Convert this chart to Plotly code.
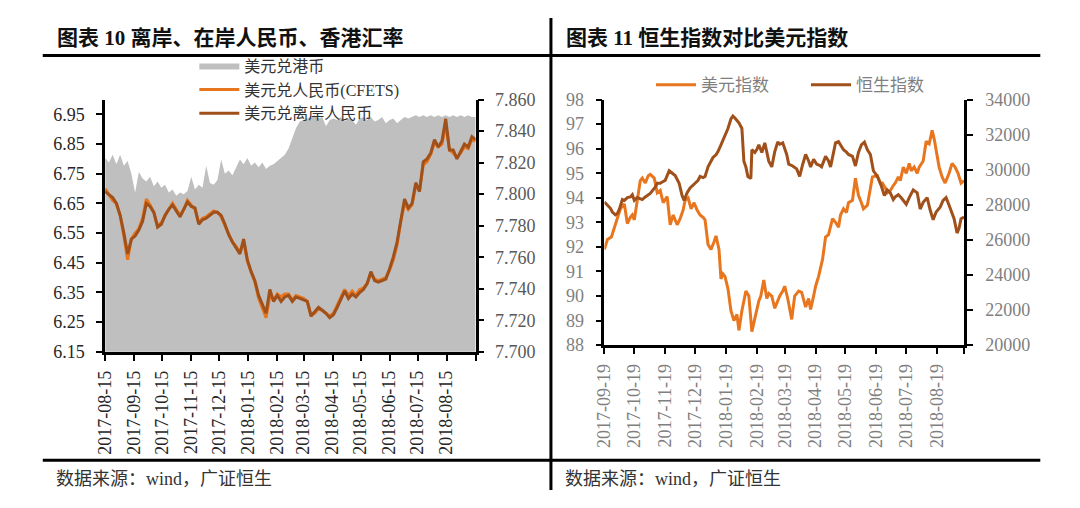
import pandas as pd
import plotly.graph_objects as go

# ---------------- Left chart data (4-day grid from 2017-08-15) ----------------
left_start = "2017-08-15"
usd_hkd = [7.823, 7.820, 7.825, 7.819, 7.825, 7.818, 7.821, 7.813, 7.801, 7.814,
           7.810, 7.808, 7.811, 7.805, 7.808, 7.804, 7.806, 7.801, 7.803, 7.799,
           7.801, 7.800, 7.802, 7.811, 7.803, 7.806, 7.804, 7.818, 7.807, 7.806,
           7.809, 7.822, 7.813, 7.815, 7.812, 7.817, 7.822, 7.819, 7.823, 7.818,
           7.820, 7.817, 7.820, 7.816, 7.818, 7.819, 7.821, 7.823, 7.825, 7.829,
           7.836, 7.842, 7.846, 7.847, 7.848, 7.849, 7.850, 7.848, 7.849, 7.843,
           7.847, 7.848, 7.847, 7.849, 7.846, 7.848, 7.847, 7.844, 7.848, 7.849,
           7.847, 7.849, 7.846, 7.847, 7.849, 7.845, 7.847, 7.848, 7.845, 7.847,
           7.849, 7.848, 7.849, 7.850, 7.849, 7.850, 7.849, 7.850, 7.849, 7.850,
           7.849, 7.850, 7.849, 7.850, 7.849, 7.850, 7.849, 7.850, 7.849, 7.849]
usd_cny_cfets = [6.700, 6.680, 6.660, 6.650, 6.610, 6.540, 6.460, 6.530, 6.550, 6.565,
                 6.600, 6.665, 6.645, 6.620, 6.575, 6.585, 6.610, 6.630, 6.650, 6.630,
                 6.610, 6.630, 6.660, 6.645, 6.630, 6.585, 6.600, 6.605, 6.615, 6.625,
                 6.620, 6.605, 6.575, 6.550, 6.520, 6.505, 6.485, 6.520, 6.455, 6.420,
                 6.385, 6.330, 6.300, 6.265, 6.340, 6.325, 6.345, 6.335, 6.345, 6.345,
                 6.325, 6.340, 6.335, 6.330, 6.320, 6.275, 6.280, 6.295, 6.290, 6.280,
                 6.270, 6.280, 6.305, 6.330, 6.360, 6.340, 6.355, 6.340, 6.360, 6.365,
                 6.380, 6.415, 6.395, 6.390, 6.395, 6.400, 6.425, 6.460, 6.510, 6.590,
                 6.650, 6.630, 6.645, 6.710, 6.695, 6.780, 6.790, 6.815, 6.855, 6.840,
                 6.850, 6.915, 6.830, 6.820, 6.805, 6.820, 6.840, 6.835, 6.865, 6.860]
usd_cnh = [6.690, 6.680, 6.670, 6.650, 6.610, 6.550, 6.480, 6.530, 6.540, 6.560,
           6.590, 6.650, 6.640, 6.620, 6.570, 6.580, 6.610, 6.630, 6.645, 6.625,
           6.605, 6.630, 6.655, 6.640, 6.635, 6.580, 6.595, 6.600, 6.610, 6.620,
           6.620, 6.610, 6.580, 6.545, 6.520, 6.500, 6.480, 6.530, 6.460, 6.420,
           6.390, 6.340, 6.310, 6.280, 6.360, 6.320, 6.340, 6.320, 6.335, 6.340,
           6.320, 6.335, 6.330, 6.325, 6.320, 6.270, 6.285, 6.300, 6.290, 6.280,
           6.265, 6.275, 6.300, 6.325, 6.355, 6.330, 6.345, 6.335, 6.350, 6.360,
           6.380, 6.420, 6.390, 6.385, 6.390, 6.395, 6.430, 6.470, 6.520, 6.600,
           6.665, 6.635, 6.650, 6.720, 6.690, 6.790, 6.800, 6.820, 6.865, 6.840,
           6.860, 6.935, 6.830, 6.830, 6.800, 6.825, 6.850, 6.840, 6.875, 6.865]

left_ticks = ["2017-08-15", "2017-09-15", "2017-10-15", "2017-11-15", "2017-12-15",
              "2018-01-15", "2018-02-15", "2018-03-15", "2018-04-15", "2018-05-15",
              "2018-06-15", "2018-07-15", "2018-08-15", "2018-09-15"]
left_ticktext = left_ticks[:-1] + [""]
left_y_ticks = [6.15, 6.25, 6.35, 6.45, 6.55, 6.65, 6.75, 6.85, 6.95]
hkd_ticks = [7.70, 7.72, 7.74, 7.76, 7.78, 7.80, 7.82, 7.84, 7.86]

# ---------------- Right chart data (day offsets from 2017-09-19) ----------------
right_start = "2017-09-19"
dxy_days = [0, 3, 7, 10, 13, 16, 20, 23, 26, 28, 30, 33, 36, 38, 41, 44, 46, 50, 53, 56,
            59, 63, 66, 69, 73, 76, 79, 81, 84, 87, 90, 93, 96, 99, 101, 104, 107, 110, 112, 115,
            117, 119, 121, 124, 127, 130, 133, 135, 138, 142, 145, 148, 151, 155, 157, 160, 163, 165, 168, 171,
            174, 176, 179, 181, 184, 188, 191, 195, 198, 202, 205, 207, 210, 212, 215, 219, 222, 225, 229, 232,
            235, 237, 240, 243, 245, 249, 252, 255, 258, 260, 264, 267, 269, 274, 277, 279, 282, 284, 287, 290,
            292, 295, 297, 300, 303, 306, 308, 311, 314, 316, 320, 323, 326, 328, 329, 331, 333, 336, 339, 342,
            346, 349, 352, 355, 358, 361]
dxy_vals = [91.90, 92.30, 92.40, 92.80, 93.15, 93.55, 93.75, 92.95, 93.20, 93.30, 93.10, 93.90, 94.70, 94.80, 94.60, 94.90, 94.95, 94.80, 94.20, 94.30,
            93.80, 94.05, 92.90, 93.30, 92.90, 93.15, 93.50, 93.90, 94.00, 93.55, 93.80, 93.50, 93.30, 93.20, 93.10, 92.10, 91.90, 92.20, 92.45, 91.90,
            90.70, 90.90, 90.80, 90.30, 89.40, 89.00, 89.25, 88.60, 89.40, 90.20, 90.00, 88.55, 89.10, 89.80, 90.00, 90.65, 89.90, 90.10, 90.00, 89.50,
            89.80, 90.00, 90.20, 90.40, 89.90, 89.05, 90.00, 90.20, 90.15, 89.55, 89.90, 89.45, 90.00, 90.40, 90.80, 91.50, 92.40, 92.50, 93.15, 93.00,
            92.80, 93.30, 93.55, 93.40, 93.80, 93.90, 94.80, 94.10, 93.80, 93.55, 93.70, 94.30, 94.85, 94.90, 94.60, 94.60, 94.40, 94.20, 94.30, 94.50,
            94.60, 94.85, 94.70, 95.25, 95.00, 95.40, 95.10, 95.25, 95.00, 95.25, 95.50, 96.30, 96.20, 96.55, 96.75, 96.40, 95.90, 95.25, 94.85, 94.60,
            95.00, 95.40, 95.25, 95.00, 94.60, 94.70]
hsi_days = [0, 3, 6, 8, 11, 13, 15, 18, 20, 23, 26, 28, 30, 33, 36, 38, 41, 43, 46, 48,
            51, 53, 56, 58, 61, 65, 68, 71, 75, 78, 80, 83, 86, 89, 91, 94, 96, 99, 101, 104,
            107, 109, 112, 114, 117, 119, 121, 124, 127, 129, 131, 132, 135, 138, 140, 142, 144, 147, 148, 151,
            153, 155, 158, 161, 163, 165, 168, 171, 174, 176, 179, 181, 183, 185, 189, 193, 196, 199, 202, 205,
            207, 210, 213, 216, 218, 222, 225, 227, 230, 232, 235, 238, 240, 243, 245, 249, 252, 255, 258, 261,
            264, 267, 270, 274, 278, 281, 284, 287, 290, 292, 295, 298, 300, 303, 306, 310, 314, 317, 320, 324,
            327, 330, 333, 337, 340, 343, 346, 348, 351, 354, 356, 358, 361]
hsi_vals = [28150, 27975, 27800, 27590, 27430, 27500, 27755, 28300, 28250, 28410, 28450, 28576, 28250, 28410, 28350, 28300, 28450, 28520, 28650, 28795,
            29000, 29230, 29230, 29300, 29395, 29940, 29780, 29670, 29230, 28520, 28250, 28685, 28960, 29100, 29230, 29400, 29615, 29550, 29615, 30160,
            30450, 30700, 30850, 31030, 31420, 31700, 31960, 32350, 32890, 33055, 32950, 32890, 32670, 32350, 30490, 30160, 29615, 29505, 31140, 30980,
            31150, 31420, 30980, 31530, 31000, 30490, 30160, 31030, 31580, 31450, 31530, 31200, 30870, 30320, 30215, 30050, 29615, 30300, 30870, 30500,
            30160, 30600, 30320, 30250, 30160, 30760, 30500, 30160, 30900, 31530, 31600, 31300, 31140, 31000, 30870, 30760, 30215, 30980, 31420, 31580,
            31140, 30870, 29940, 29615, 29070, 28520, 28850, 28685, 28300, 28450, 28576, 28400, 28250, 28030, 28410, 28850, 28685, 27755, 28140, 28410,
            27700, 27150, 27590, 27865, 28250, 28410, 27975, 27700, 27210, 26390, 26660, 27210, 27300]

right_ticks = ["2017-09-19", "2017-10-19", "2017-11-19", "2017-12-19", "2018-01-19",
               "2018-02-19", "2018-03-19", "2018-04-19", "2018-05-19", "2018-06-19",
               "2018-07-19", "2018-08-19", "2018-09-15"]
right_ticktext = right_ticks[:-1] + [""]

# ---------------- Styling ----------------
PAGE_W, PAGE_H = 1080, 508
BODY_MARGIN = 8                      # default page margin around the figure div
FIG_W, FIG_H = PAGE_W - 2 * BODY_MARGIN, PAGE_H - 2 * BODY_MARGIN
SERIF = "Liberation Serif, 'Noto Sans CJK SC', serif"
GRAY_FILL = "#BFBFBF"
ORANGE = "#E8761E"
BROWN = "#A0501A"


def px(x):
    """page x pixel -> paper fraction"""
    return (x - BODY_MARGIN) / FIG_W


def py(y):
    """page y pixel (from top) -> paper fraction"""
    return 1 - (y - BODY_MARGIN) / FIG_H


left_dates = pd.date_range(left_start, periods=len(usd_cnh), freq="4D")
right_dxy_dates = pd.Timestamp(right_start) + pd.to_timedelta(dxy_days, unit="D")
right_hsi_dates = pd.Timestamp(right_start) + pd.to_timedelta(hsi_days, unit="D")

fig = go.Figure()

fig.add_trace(go.Scatter(x=left_dates, y=usd_hkd, name="美元兑港币", mode="lines",
                         fill="tozeroy", fillcolor=GRAY_FILL, line=dict(width=0, color=GRAY_FILL),
                         xaxis="x", yaxis="y", legend="legend"))
fig.add_trace(go.Scatter(x=left_dates, y=usd_cny_cfets, name="美元兑人民币(CFETS)", mode="lines",
                         line=dict(width=3, color=ORANGE), xaxis="x", yaxis="y2", legend="legend"))
fig.add_trace(go.Scatter(x=left_dates, y=usd_cnh, name="美元兑离岸人民币", mode="lines",
                         line=dict(width=3, color=BROWN), xaxis="x", yaxis="y2", legend="legend"))

fig.add_trace(go.Scatter(x=right_dxy_dates, y=dxy_vals, name="美元指数", mode="lines",
                         line=dict(width=3, color=ORANGE), xaxis="x2", yaxis="y3", legend="legend2"))
fig.add_trace(go.Scatter(x=right_hsi_dates, y=hsi_vals, name="恒生指数", mode="lines",
                         line=dict(width=3, color=BROWN), xaxis="x2", yaxis="y4", legend="legend2"))

axis_common = dict(showline=True, linecolor="black", linewidth=2.5, showgrid=False, zeroline=False,
                   ticks="outside", ticklen=6, tickwidth=2, tickcolor="black")
xfont_l = dict(family=SERIF, size=18, color="#262626")
xfont_r = dict(family=SERIF, size=18, color="#7F7F7F")

fig.update_layout(
    width=FIG_W, height=FIG_H, autosize=False,
    margin=dict(l=0, r=0, t=0, b=0),
    paper_bgcolor="white", plot_bgcolor="rgba(0,0,0,0)",
    font=dict(family=SERIF, size=16, color="#262626"),
    showlegend=True,
    xaxis=dict(domain=[px(96), px(470)], anchor="y", type="date",
               range=[left_start, "2018-09-15"], tickmode="array",
               tickvals=left_ticks, ticktext=left_ticktext, tickangle=-90,
               tickfont=xfont_l, ticklabelstandoff=3, **axis_common),
    yaxis=dict(domain=[py(356), py(93)], anchor="x", side="right", range=[7.70, 7.86],
               tickmode="array", tickvals=hkd_ticks, tickformat=".3f", ticklabelstandoff=7,
               tickfont=dict(family=SERIF, size=18, color="#595959"), **axis_common),
    yaxis2=dict(overlaying="y", anchor="x", side="left", range=[6.15, 7.0],
                tickmode="array", tickvals=left_y_ticks, tickformat=".2f", ticklabelstandoff=8,
                tickfont=dict(family=SERIF, size=18, color="#262626"), **axis_common),
    xaxis2=dict(domain=[px(600), px(963)], anchor="y3", type="date",
                range=[right_start, "2018-09-15"], tickmode="array",
                tickvals=right_ticks, ticktext=right_ticktext, tickangle=-90,
                tickfont=xfont_r, ticklabelstandoff=3, **axis_common),
    yaxis3=dict(domain=[py(349), py(93)], anchor="x2", side="left", range=[88, 98], dtick=1,
                ticklabelstandoff=8, tickfont=dict(family=SERIF, size=18, color="#7F7F7F"), **axis_common),
    yaxis4=dict(overlaying="y3", anchor="x2", side="right", range=[20000, 34000], dtick=2000,
                tickformat="d", ticklabelstandoff=9,
                tickfont=dict(family=SERIF, size=18, color="#7F7F7F"), **axis_common),
    legend=dict(x=px(186), y=py(40), xanchor="left", yanchor="top", orientation="v",
                bgcolor="rgba(0,0,0,0)", font=dict(family=SERIF, size=16, color="#333333"),
                itemwidth=40, tracegroupgap=0),
    legend2=dict(x=px(647), y=py(78), xanchor="left", yanchor="middle", orientation="h",
                 bgcolor="rgba(0,0,0,0)", font=dict(family=SERIF, size=17, color="#7F7F7F"),
                 itemwidth=40, entrywidth=100, entrywidthmode="pixels"),
)

# Frame rules of the report page
rule = dict(type="line", xref="paper", yref="paper", line=dict(color="black", width=3))
fig.add_shape(**rule, x0=px(33), x1=px(1040), y0=py(47), y1=py(47))
fig.add_shape(**rule, x0=px(33), x1=px(1040), y0=py(469), y1=py(469))
fig.add_shape(**rule, x0=px(546), x1=px(546), y0=0, y1=1)

title_font = dict(family=SERIF, size=21, color="#111111")
for tx, ttl in [(45, "<b>图表 10 离岸、在岸人民币、香港汇率</b>"), (559, "<b>图表 11 恒生指数对比美元指数</b>")]:
    fig.add_annotation(x=px(tx), y=py(29), xref="paper", yref="paper", xanchor="left", yanchor="middle",
                       align="left", text=ttl, showarrow=False, font=title_font)
src_font = dict(family=SERIF, size=18, color="#333333")
for tx in (44, 558):
    fig.add_annotation(x=px(tx), y=py(489), xref="paper", yref="paper", xanchor="left", yanchor="middle",
                       align="left", text="数据来源：wind，广证恒生", showarrow=False, font=src_font)

fig.write_html("out.html", config={"displayModeBar": False, "responsive": False})
